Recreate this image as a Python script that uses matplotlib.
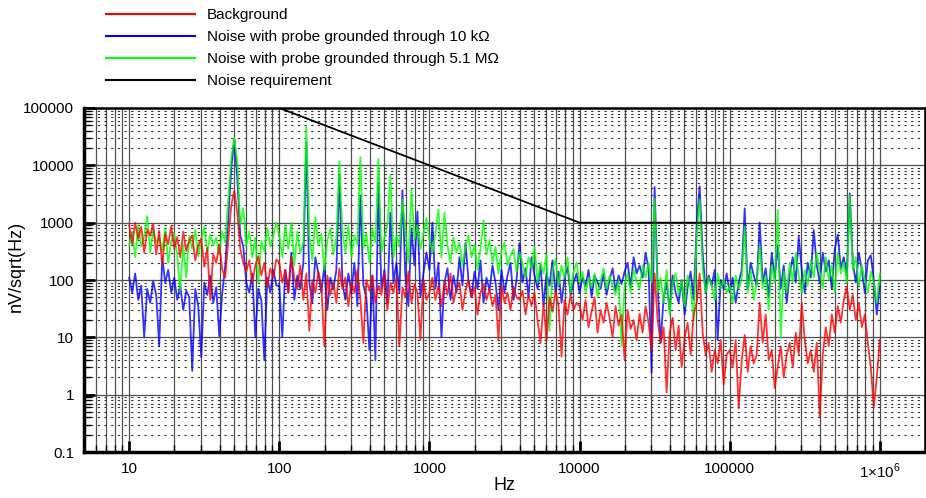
import matplotlib
matplotlib.use('Agg')
import matplotlib.pyplot as plt
import numpy as np
from matplotlib.ticker import LogLocator, NullFormatter


# fonts
plt.rcParams['font.family'] = ['Liberation Sans', 'DejaVu Sans']
plt.rcParams['mathtext.fontset'] = 'custom'
plt.rcParams['mathtext.rm'] = 'Liberation Sans'


# data: spectra sampled 50 pts per decade from 10 Hz to 1 MHz (251 pts)
f_start, f_stop, n_pts = 10, 1e6, 251

# background, nV/sqrt(Hz)
bg_d1 = [900, 420, 1000, 520, 850, 300, 760, 600, 950, 280,
         720, 180, 640, 420, 880, 350, 560, 250, 700, 320,
         480, 600, 220, 400, 530, 170, 360, 45, 280, 200,
         420, 150, 110, 500, 2000, 3600, 1500, 350, 200, 140,
         220, 90, 180, 260, 120, 200, 75, 160, 110, 230]
bg_d2 = [200, 90, 150, 60, 250, 110, 70, 180, 45, 130,
         13, 100, 60, 140, 80, 7, 120, 55, 90, 40,
         160, 70, 110, 35, 90, 60, 150, 45, 8, 100,
         65, 120, 40, 80, 55, 130, 30, 90, 60, 110,
         7, 75, 50, 140, 40, 85, 60, 9, 100, 45]
bg_d3 = [60, 110, 45, 80, 35, 95, 55, 130, 40, 70,
         90, 30, 65, 100, 50, 75, 25, 60, 85, 45,
         70, 35, 55, 9, 80, 40, 60, 30, 75, 50,
         45, 65, 25, 55, 35, 60, 20, 8, 40, 8.5,
         50, 28, 65, 35, 4.6, 45, 25, 55, 30, 40]
bg_d4 = [35, 20, 45, 15, 28, 50, 12, 30, 18, 40,
         22, 10, 35, 16, 25, 4, 30, 14, 20, 9,
         26, 12, 35, 18, 6, 130, 20, 8, 15, 1.1,
         12, 22, 6, 16, 3, 10, 18, 5, 25, 40,
         130, 12, 5, 8, 2.5, 6, 3.5, 9, 1.5, 5]
bg_d5 = [6, 3, 9, 0.58, 4, 11, 2.5, 7, 3.5, 5,
         40, 8, 25, 4, 6, 1.3, 3, 7, 2, 5,
         8, 3, 12, 5, 40, 9, 3.5, 6, 2.5, 8,
         0.41, 5, 15, 7, 25, 12, 35, 18, 45, 76,
         30, 55, 20, 40, 15, 25, 8, 3, 0.6, 2,
         9]

# probe grounded through 10 kOhm
r10k_d1 = [110, 60, 130, 45, 80, 10, 70, 40, 95, 55,
           7, 250, 90, 150, 60, 110, 45, 80, 30, 65,
           50, 2.6, 70, 35, 4.5, 90, 55, 120, 40, 75,
           10.5, 60, 180, 1200, 9000, 28000, 6000, 600, 380, 90,
           60, 130, 10, 70, 45, 4, 110, 60, 150, 80]
r10k_d2 = [80, 10, 150, 60, 300, 45, 120, 70, 200, 25000,
           90, 40, 250, 130, 60, 180, 30, 110, 70, 150,
           7000, 90, 45, 130, 60, 200, 35, 3000, 80, 50,
           6, 120, 4, 5000, 70, 150, 40, 1500, 90, 200,
           60, 3700, 110, 35, 800, 180, 1560, 50, 130, 300]
r10k_d3 = [150, 1000, 70, 200, 10, 90, 160, 45, 120, 60,
           250, 80, 440, 100, 50, 140, 70, 220, 40, 110,
           65, 180, 90, 30, 150, 60, 120, 200, 45, 100,
           440, 90, 160, 50, 250, 120, 70, 180, 35, 130,
           80, 220, 60, 140, 40, 110, 170, 55, 90, 130]
r10k_d4 = [60, 110, 80, 150, 50, 120, 90, 70, 130, 55,
           100, 160, 65, 120, 85, 140, 200, 75, 250, 130,
           180, 110, 300, 150, 2.4, 4200, 80, 8, 50, 90,
           30, 120, 60, 40, 100, 25, 75, 140, 45, 900,
           4300, 300, 60, 120, 80, 150, 9, 100, 70, 130]
r10k_d5 = [60, 110, 40, 90, 150, 1780, 70, 200, 120, 80,
           1010, 90, 160, 50, 300, 110, 400, 70, 180, 40,
           130, 250, 90, 570, 150, 60, 200, 110, 740, 180,
           90, 300, 140, 220, 70, 350, 620, 160, 250, 120,
           3250, 200, 90, 300, 150, 60, 220, 270, 100, 25,
           80]

# probe grounded through 5.1 MOhm
r5m_d1 = [400, 700, 250, 900, 380, 600, 1300, 300, 750, 450,
          550, 320, 800, 200, 480, 650, 280, 65, 420, 110,
          600, 350, 750, 260, 500, 850, 300, 620, 400, 550,
          280, 700, 450, 2500, 14000, 30000, 12000, 900, 1800, 400,
          700, 250, 550, 90, 480, 320, 800, 380, 600, 1000]
r5m_d2 = [600, 250, 900, 350, 1000, 180, 700, 300, 450, 47000,
          600, 220, 1250, 400, 650, 150, 500, 800, 280, 550,
          11500, 700, 300, 900, 250, 600, 420, 14000, 350, 650,
          200, 800, 450, 13000, 300, 550, 900, 6800, 250, 600,
          380, 2500, 700, 200, 3900, 500, 900, 350, 650, 1200]
r5m_d3 = [500, 300, 650, 1700, 250, 1500, 400, 200, 550, 300,
          450, 180, 380, 600, 250, 420, 150, 350, 1100, 280,
          500, 200, 380, 130, 320, 450, 180, 260, 350, 140,
          300, 200, 110, 250, 160, 380, 90, 200, 130, 280,
          13, 150, 230, 80, 180, 110, 250, 60, 140, 200]
r5m_d4 = [90, 140, 60, 110, 75, 130, 50, 95, 160, 70,
          120, 80, 55, 100, 7, 85, 130, 60, 150, 95,
          70, 180, 110, 200, 90, 2600, 60, 110, 40, 150,
          25, 90, 130, 55, 100, 35, 120, 70, 20, 600,
          2500, 150, 60, 110, 80, 45, 130, 70, 100, 60]
r5m_d5 = [80, 40, 120, 70, 100, 850, 60, 150, 45, 90,
          400, 70, 120, 30, 180, 90, 1660, 10, 140, 60,
          200, 90, 300, 120, 60, 150, 80, 220, 110, 300,
          140, 70, 250, 100, 180, 60, 300, 130, 200, 90,
          3000, 150, 250, 80, 180, 100, 60, 140, 90, 40,
          130]

# requirement
req_f = [100, 10000, 100000]
req_v = [100000, 1000, 1000]

labels = [
    'Background',
    'Noise with probe grounded through 10 k\u03a9',
    'Noise with probe grounded through 5.1 M\u03a9',
    'Noise requirement',
]

xticks = [10, 100, 1000, 10000, 100000, 1e6]
xtick_labels = ['10', '100', '1000', '10000', '100000',
                '1\u00d710$^{\\mathregular{6}}$']
yticks = [0.1, 1, 10, 100, 1000, 10000, 100000]
ytick_labels = ['0.1', '1', '10', '100', '1000', '10000', '100000']


# building series
f_ra = np.logspace(np.log10(f_start), np.log10(f_stop), n_pts)
bg_ra = np.array(bg_d1 + bg_d2 + bg_d3 + bg_d4 + bg_d5)
r10k_ra = np.array(r10k_d1 + r10k_d2 + r10k_d3 + r10k_d4 + r10k_d5)
r5m_ra = np.array(r5m_d1 + r5m_d2 + r5m_d3 + r5m_d4 + r5m_d5)


# plotting
fig = plt.figure(figsize=(9.26, 4.98), dpi=100)
ax = fig.add_axes([84/926, 1 - 452/498, 841/926, 344/498])

lw = 1.3
l_b, = ax.plot(f_ra, r10k_ra, color='#0000ff', lw=lw, alpha=0.8, zorder=3)
l_g, = ax.plot(f_ra, r5m_ra, color='#00ff00', lw=lw, alpha=0.8, zorder=4)
l_r, = ax.plot(f_ra, bg_ra, color='#ff0000', lw=lw, alpha=0.8, zorder=5)
l_k, = ax.plot(req_f, req_v, color='black', lw=1.3, zorder=6)

ax.set_xscale('log')
ax.set_yscale('log')
ax.set_xlim(5, 2e6)
ax.set_ylim(0.1, 1e5)

ax.set_xticks(xticks, labels=xtick_labels)
ax.set_yticks(yticks, labels=ytick_labels)
ax.xaxis.set_minor_locator(LogLocator(base=10, subs=np.arange(2, 10), numticks=50))
ax.yaxis.set_minor_locator(LogLocator(base=10, subs=np.arange(2, 10), numticks=50))
ax.xaxis.set_minor_formatter(NullFormatter())
ax.yaxis.set_minor_formatter(NullFormatter())

ax.tick_params(which='both', direction='in', top=False, right=False,
               labelsize=11, color='black')
ax.tick_params(which='major', length=8, width=2)
ax.tick_params(which='minor', length=5, width=1)
ax.tick_params(axis='x', which='major', pad=7)
ax.tick_params(axis='y', which='major', pad=7)

# grid
ax.xaxis.grid(True, which='both', color='#505050', lw=0.9, ls='-')
ax.yaxis.grid(True, which='major', color='#505050', lw=0.9, ls='-')
ax.yaxis.grid(True, which='minor', color='#303030', lw=0.8, ls=(0, (2, 4)))
ax.set_axisbelow(True)

for side in ['left', 'bottom']:
    ax.spines[side].set_linewidth(2.5)
for side in ['top', 'right']:
    ax.spines[side].set_linewidth(1.8)

ax.set_xlabel('Hz', fontsize=13)
ax.set_ylabel('nV/sqrt(Hz)', fontsize=13)
ax.xaxis.set_label_coords(0.5, -0.073)
ax.yaxis.set_label_coords(-0.070, 0.538)

leg = fig.legend(
    [l_r, l_b, l_g, l_k], labels,
    loc='upper left', bbox_to_anchor=(106/926, 1 - 8/498),
    frameon=False, fontsize=11, borderpad=0, borderaxespad=0,
    handlelength=5.8, handletextpad=0.8, labelspacing=0.53
)
for h in leg.legend_handles:
    h.set_alpha(1)
    h.set_linewidth(1.5)

fig.savefig('out.png', dpi=100)
